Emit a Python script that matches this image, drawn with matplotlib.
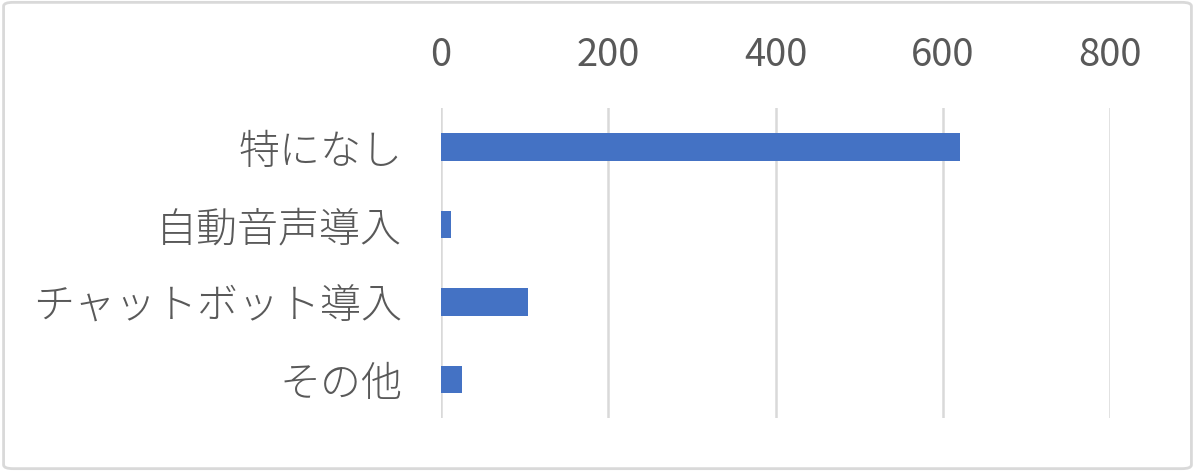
import matplotlib
matplotlib.use("Agg")
import matplotlib.pyplot as plt
from matplotlib.patches import FancyBboxPatch

plt.rcParams['font.family'] = ['Noto Sans CJK JP', 'DejaVu Sans']

categories = ['特になし', '自動音声導入', 'チャットボット導入', 'その他']
values = [620, 12, 104, 25]
x_ticks = [0, 200, 400, 600, 800]

bar_color = '#4472C4'
text_color = '#595959'
grid_color = '#D9D9D9'

fig = plt.figure(figsize=(11.95, 4.71), dpi=100)
ax = fig.add_axes([0.369, 0.1125, 0.56, 0.658])

y_pos = list(range(len(categories)))
ax.barh(y_pos, values, height=0.355, color=bar_color, zorder=3)

ax.set_xlim(0, 800)
ax.set_ylim(len(categories) - 0.5, -0.5)
ax.set_xticks(x_ticks)
ax.set_yticks(y_pos)
ax.set_yticklabels(categories, fontweight='light')

ax.xaxis.tick_top()
ax.tick_params(axis='x', length=0, pad=24, labelsize=27.5, labelcolor=text_color)
ax.tick_params(axis='y', length=0, pad=28, labelsize=29.5, labelcolor=text_color)

ax.grid(axis='x', color=grid_color, linewidth=1.8, zorder=0)
for side in ax.spines.values():
    side.set_visible(False)

# light frame around the chart, like the spreadsheet chart area
frame = FancyBboxPatch((0.003, 0.005), 0.994, 0.99,
                       boxstyle='round,pad=0,rounding_size=0.008',
                       transform=fig.transFigure, fill=False,
                       edgecolor=grid_color, linewidth=2)
fig.patches.append(frame)

fig.savefig('out.png', dpi=100)
